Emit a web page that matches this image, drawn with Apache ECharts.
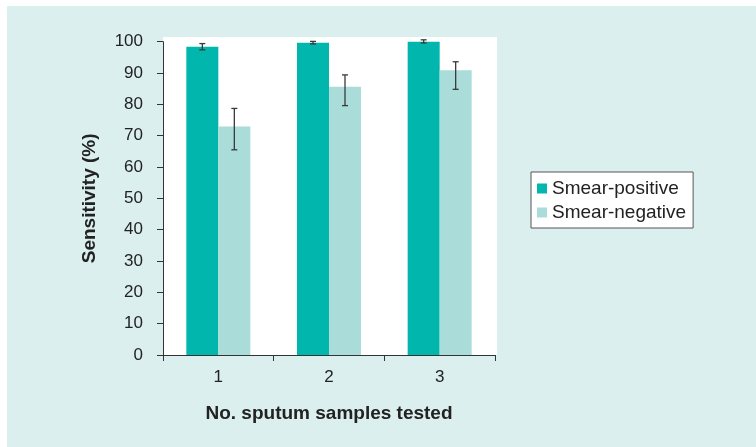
<!DOCTYPE html>
<html><head><meta charset="utf-8">
<script src="https://cdn.jsdelivr.net/npm/echarts@6/dist/echarts.min.js"></script>
<style>html,body{margin:0;padding:0;background:#fff}#c{width:756px;height:447px}</style>
</head><body><div id="c"></div>
<script>
var categories = ['1', '2', '3'];
var smearPositive = [98.4, 99.7, 100.0];
var smearPositiveLow = [97.4, 99.3, 99.6];
var smearPositiveHigh = [99.4, 100.1, 100.6];
var smearNegative = [72.9, 85.6, 90.9];
var smearNegativeLow = [65.5, 79.6, 84.8];
var smearNegativeHigh = [78.7, 89.4, 93.6];
var yTicks = [0, 10, 20, 30, 40, 50, 60, 70, 80, 90, 100];

var BAR_W = 32;
var FONT = 'Liberation Sans, Arial, sans-serif';

function errData(low, high) {
  return categories.map(function (c, i) { return [i, low[i], high[i]]; });
}
function errSeries(name, low, high, side) {
  return {
    type: 'custom', name: name + ' error', silent: true, z: 10,
    data: errData(low, high),
    renderItem: function (params, api) {
      var lo = api.coord([api.value(0), api.value(1)]);
      var hi = api.coord([api.value(0), api.value(2)]);
      var x = lo[0] + side * BAR_W / 2;
      var cap = 3;
      var st = { stroke: '#3a3a3a', lineWidth: 1.3 };
      return { type: 'group', children: [
        { type: 'line', shape: { x1: x, y1: hi[1], x2: x, y2: lo[1] }, style: st },
        { type: 'line', shape: { x1: x - cap, y1: hi[1], x2: x + cap, y2: hi[1] }, style: st },
        { type: 'line', shape: { x1: x - cap, y1: lo[1], x2: x + cap, y2: lo[1] }, style: st }
      ]};
    }
  };
}

var chart = echarts.init(document.getElementById('c'));
chart.setOption({
  backgroundColor: '#ffffff',
  animation: false,
  graphic: [{ type: 'rect', left: 7, top: 6, shape: { width: 760, height: 450 }, style: { fill: '#dbefee' }, z: -10, silent: true }],
  grid: [
    { left: 163, right: 261, top: 41.7, bottom: 92, containLabel: false },
    { left: 163, right: 259, top: 37, bottom: 92, show: true, backgroundColor: '#ffffff', borderWidth: 0, z: -1 }
  ],
  legend: {
    orient: 'vertical', left: 531, top: 172,
    padding: [7, 7, 6, 6],
    backgroundColor: '#ffffff', borderColor: '#555', borderWidth: 1,
    itemWidth: 10, itemHeight: 10, itemGap: 5,
    icon: 'rect',
    textStyle: { fontFamily: FONT, fontSize: 19, color: '#222', padding: [0, 0, 0, 0] },
    data: ['Smear-positive', 'Smear-negative']
  },
  xAxis: [{
    type: 'category', gridIndex: 0, data: categories,
    axisLine: { lineStyle: { color: '#333', width: 1 } },
    axisTick: { show: true, length: 6, lineStyle: { color: '#333' } },
    axisLabel: { fontFamily: FONT, fontSize: 17, color: '#222', margin: 14 },
    name: 'No. sputum samples tested', nameLocation: 'middle', nameGap: 49,
    nameTextStyle: { fontFamily: FONT, fontSize: 19, fontWeight: 'bold', color: '#222' }
  }],
  yAxis: [{
    type: 'value', gridIndex: 0, min: 0, max: 100, interval: 10,
    axisLine: { show: true, lineStyle: { color: '#333', width: 1 } },
    axisTick: { show: true, length: 6, lineStyle: { color: '#333' } },
    splitLine: { show: false },
    axisLabel: { fontFamily: FONT, fontSize: 17, color: '#222', margin: 20 },
    name: 'Sensitivity (%)', nameLocation: 'middle', nameGap: 64,
    nameTextStyle: { fontFamily: FONT, fontSize: 19, fontWeight: 'bold', color: '#222' }
  }],
  series: [
    { name: 'Smear-positive', type: 'bar', data: smearPositive, barWidth: BAR_W, barGap: '0%',
      itemStyle: { color: '#00b6ad' } },
    { name: 'Smear-negative', type: 'bar', data: smearNegative, barWidth: BAR_W, barGap: '0%',
      itemStyle: { color: '#aadcd9' } },
    errSeries('Smear-positive', smearPositiveLow, smearPositiveHigh, -1),
    errSeries('Smear-negative', smearNegativeLow, smearNegativeHigh, 1)
  ]
});
</script></body></html>
